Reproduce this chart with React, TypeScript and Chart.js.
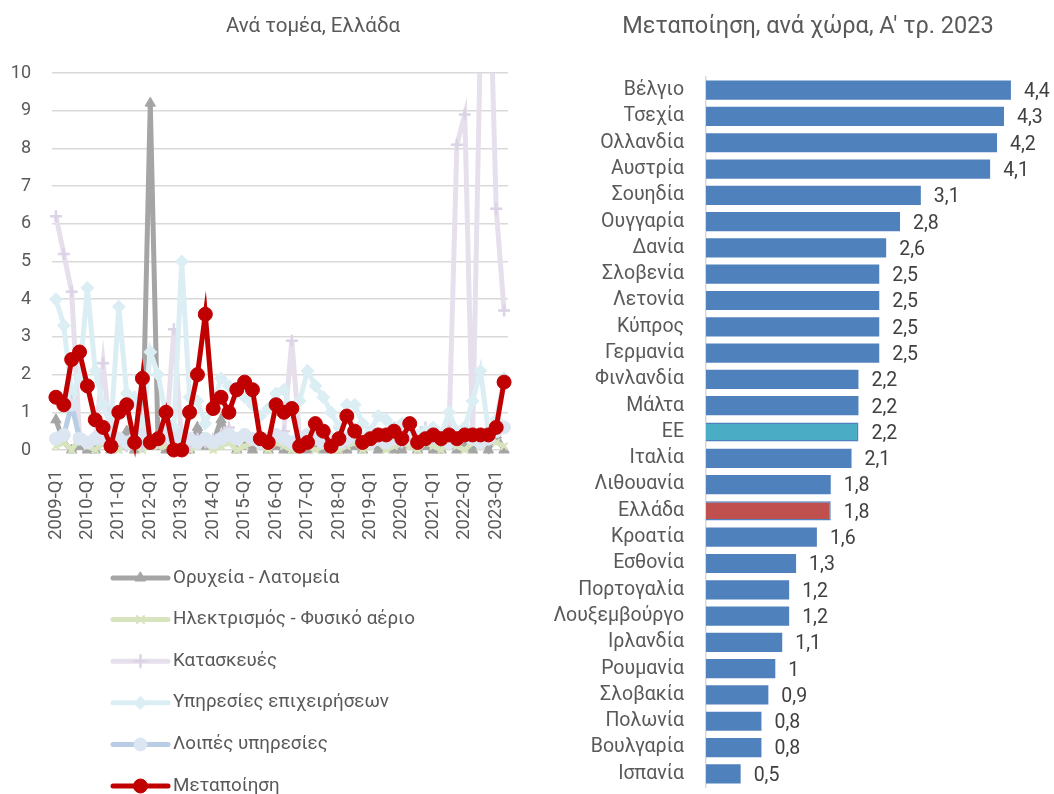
import React, { useEffect, useRef } from 'react';
import { Chart, registerables } from 'chart.js';
import { drawPoint } from 'chart.js/helpers';

Chart.register(...registerables);

const FONT_FAMILY = 'Roboto, "Noto Sans", "DejaVu Sans", sans-serif';
const TEXT_COLOR = '#595959';
const VALUE_COLOR = '#404040';
const GRID_COLOR = '#D9D9D9';

// ---------- Left chart data ----------
const quarterLabels = [
  '2009-Q1', '2009-Q2', '2009-Q3', '2009-Q4',
  '2010-Q1', '2010-Q2', '2010-Q3', '2010-Q4',
  '2011-Q1', '2011-Q2', '2011-Q3', '2011-Q4',
  '2012-Q1', '2012-Q2', '2012-Q3', '2012-Q4',
  '2013-Q1', '2013-Q2', '2013-Q3', '2013-Q4',
  '2014-Q1', '2014-Q2', '2014-Q3', '2014-Q4',
  '2015-Q1', '2015-Q2', '2015-Q3', '2015-Q4',
  '2016-Q1', '2016-Q2', '2016-Q3', '2016-Q4',
  '2017-Q1', '2017-Q2', '2017-Q3', '2017-Q4',
  '2018-Q1', '2018-Q2', '2018-Q3', '2018-Q4',
  '2019-Q1', '2019-Q2', '2019-Q3', '2019-Q4',
  '2020-Q1', '2020-Q2', '2020-Q3', '2020-Q4',
  '2021-Q1', '2021-Q2', '2021-Q3', '2021-Q4',
  '2022-Q1', '2022-Q2', '2022-Q3', '2022-Q4',
  '2023-Q1', '2023-Q2',
];

const miningValues = [
  0.8, 0.2, 0, 0.1, 0, 0, 0.2, 0, 0.1, 0.5,
  0, 0.1, 9.2, 0.1, 0, 0, 0.2, 0, 0.6, 0.1,
  0.2, 0.8, 0.3, 0, 0.1, 0, 0.2, 0, 0.1, 0,
  0, 0.3, 0, 0.1, 0, 0.2, 0, 0, 0.1, 0,
  0.2, 0, 0.1, 0, 0, 0.2, 0, 0.1, 0, 0,
  0.2, 0, 0.1, 0, 0.3, 0, 0.4, 0,
];

const electricityValues = [
  0.1, 0.2, 0, 0.3, 0.1, 0, 0.2, 0.1, 0, 0.2,
  0.1, 0, 0.2, 0.1, 0.1, 0, 0.2, 0, 0.1, 0.2,
  0, 0.1, 0.2, 0, 0.1, 0.2, 0.1, 0, 0.2, 0.1,
  0, 0.2, 0.1, 0, 0.1, 0.2, 0, 0.1, 0.2, 0,
  0.1, 0.2, 0, 0.1, 0.2, 0.1, 0, 0.2, 0.1, 0,
  0.2, 0.1, 0, 0.2, 0.1, 0.3, 0.2, 0.1,
];

const constructionValues = [
  6.2, 5.2, 4.2, 0.4, 0.2, 0.3, 2.3, 0.2, 0.3, 0.1,
  0.2, 0.1, 0.3, 0.2, 0.3, 3.2, 0.2, 0.1, 0.3, 0.2,
  0.3, 0.4, 0.6, 0.3, 0.4, 0.3, 0.2, 0.3, 0.4, 0.5,
  2.9, 0.3, 0.2, 0.3, 0.2, 0.1, 0.3, 0.2, 0.4, 0.3,
  0.2, 0.3, 0.4, 0.3, 0.2, 0.3, 0.4, 0.6, 0.3, 0.4,
  0.5, 8.1, 8.9, 0.3, 11, 14, 6.4, 3.7,
];

const businessServicesValues = [
  4.0, 3.3, 1.5, 1.9, 4.3, 2.1, 1.2, 0.6, 3.8, 1.5,
  1.4, 0.5, 2.6, 2.0, 0.9, 0.6, 5.0, 1.4, 1.3, 0.7,
  1.2, 1.9, 1.7, 1.5, 1.4, 1.2, 0.9, 1.1, 1.5, 1.6,
  1.0, 1.3, 2.1, 1.7, 1.4, 1.0, 0.6, 1.2, 1.2, 0.7,
  0.5, 0.9, 0.8, 0.6, 0.7, 0.5, 0.4, 0.5, 0.6, 0.4,
  1.0, 0.5, 0.6, 1.3, 2.1, 0.5, 0.8, 1.9,
];

const otherServicesValues = [
  0.3, 0.4, 1.2, 0.3, 0.2, 0.3, 0.3, 0.4, 0.3, 0.2,
  0.3, 0.4, 0.2, 0.3, 0.4, 0.3, 0.4, 0.3, 0.2, 0.3,
  0.2, 0.3, 0.4, 0.3, 0.4, 0.3, 0.2, 0.3, 0.4, 0.3,
  0.2, 0.3, 0.4, 0.3, 0.2, 0.3, 0.2, 0.3, 0.4, 0.3,
  0.2, 0.3, 0.2, 0.3, 0.4, 0.3, 0.2, 0.3, 0.4, 0.3,
  0.2, 0.3, 0.4, 0.3, 0.2, 0.3, 0.5, 0.6,
];

const manufacturingValues = [
  1.4, 1.2, 2.4, 2.6, 1.7, 0.8, 0.6, 0.1, 1.0, 1.2,
  0.2, 1.9, 0.2, 0.3, 1.0, 0, 0, 1.0, 2.0, 3.6,
  1.1, 1.4, 1.0, 1.6, 1.8, 1.6, 0.3, 0.2, 1.2, 1.0,
  1.1, 0.1, 0.2, 0.7, 0.5, 0.1, 0.3, 0.9, 0.5, 0.2,
  0.3, 0.4, 0.4, 0.5, 0.3, 0.7, 0.2, 0.3, 0.4, 0.3,
  0.4, 0.3, 0.4, 0.4, 0.4, 0.4, 0.6, 1.8,
];

const yTickValues = [0, 1, 2, 3, 4, 5, 6, 7, 8, 9, 10];

// ---------- Right chart data ----------
const countries = [
  'Βέλγιο', 'Τσεχία', 'Ολλανδία', 'Αυστρία', 'Σουηδία', 'Ουγγαρία', 'Δανία',
  'Σλοβενία', 'Λετονία', 'Κύπρος', 'Γερμανία', 'Φινλανδία', 'Μάλτα', 'ΕΕ',
  'Ιταλία', 'Λιθουανία', 'Ελλάδα', 'Κροατία', 'Εσθονία', 'Πορτογαλία',
  'Λουξεμβούργο', 'Ιρλανδία', 'Ρουμανία', 'Σλοβακία', 'Πολωνία', 'Βουλγαρία', 'Ισπανία',
];
const countryValues = [
  4.4, 4.3, 4.2, 4.1, 3.1, 2.8, 2.6, 2.5, 2.5, 2.5, 2.5, 2.2, 2.2, 2.2,
  2.1, 1.8, 1.8, 1.6, 1.3, 1.2, 1.2, 1.1, 1, 0.9, 0.8, 0.8, 0.5,
];

// ---------- Plugins ----------
const verticalLegend = {
  id: 'verticalLegend',
  afterDraw(chart: any, _args: any, opts: any) {
    const ctx = chart.ctx;
    chart.data.datasets.forEach((ds: any, i: number) => {
      const cy = opts.y + i * opts.step;
      const x = opts.x;
      ctx.save();
      ctx.lineCap = 'round';
      ctx.strokeStyle = ds.borderColor;
      ctx.lineWidth = ds.borderWidth;
      ctx.beginPath();
      ctx.moveTo(x, cy);
      ctx.lineTo(x + opts.lineLength, cy);
      ctx.stroke();
      ctx.fillStyle = ds.pointBackgroundColor;
      ctx.strokeStyle = ds.pointBorderColor;
      ctx.lineWidth = ds.pointBorderWidth;
      drawPoint(
        ctx,
        { pointStyle: ds.pointStyle, radius: ds.pointRadius, rotation: 0, borderWidth: ds.pointBorderWidth },
        x + opts.lineLength / 2,
        cy
      );
      ctx.fillStyle = opts.color;
      ctx.font = opts.font;
      ctx.textAlign = 'left';
      ctx.textBaseline = 'middle';
      ctx.fillText(ds.label, x + opts.lineLength + opts.gap, cy);
      ctx.restore();
    });
  },
};

const barValueLabels = {
  id: 'barValueLabels',
  afterDatasetsDraw(chart: any, _args: any, opts: any) {
    const ctx = chart.ctx;
    const meta = chart.getDatasetMeta(0);
    const values = chart.data.datasets[0].data;
    ctx.save();
    ctx.font = opts.font;
    ctx.fillStyle = opts.color;
    ctx.textAlign = 'left';
    ctx.textBaseline = 'middle';
    meta.data.forEach((el: any, i: number) => {
      const txt = String(values[i]).replace('.', ',');
      ctx.fillText(txt, el.x + opts.offset, el.y + 2);
    });
    ctx.restore();
  },
};

const lineClip = { left: 10, right: 10, top: 0, bottom: 10 };

function makeLineDataset(
  label: string,
  data: number[],
  lineColor: string,
  pointColor: string,
  pointStyle: string,
  radius: number,
  pointBorderWidth: number,
  order: number
) {
  return {
    label,
    data,
    borderColor: lineColor,
    backgroundColor: pointColor,
    pointBackgroundColor: pointColor,
    pointBorderColor: pointColor,
    pointStyle,
    pointRadius: radius,
    pointBorderWidth,
    borderWidth: 5,
    tension: 0,
    order,
    clip: lineClip,
  };
}

function LeftChart() {
  const ref = useRef<HTMLCanvasElement | null>(null);
  useEffect(() => {
    if (!ref.current) return;
    const tickFont = { family: FONT_FAMILY, size: 18 };
    const chart = new Chart(ref.current, {
      type: 'line',
      data: {
        labels: quarterLabels,
        datasets: [
          makeLineDataset('Ορυχεία - Λατομεία', miningValues, '#A5A5A5', '#A5A5A5', 'triangle', 6, 1, 5),
          makeLineDataset('Ηλεκτρισμός - Φυσικό αέριο', electricityValues, '#D7E4BD', '#D7E4BD', 'crossRot', 5, 2, 4),
          makeLineDataset('Κατασκευές', constructionValues, '#E6E0EC', '#DCD3E6', 'cross', 6, 2.5, 3),
          makeLineDataset('Υπηρεσίες επιχειρήσεων', businessServicesValues, '#DBEEF4', '#DBEEF4', 'rectRot', 6.5, 1, 2),
          makeLineDataset('Λοιπές υπηρεσίες', otherServicesValues, '#B9CDE5', '#DCE6F2', 'circle', 6.5, 1, 1),
          makeLineDataset('Μεταποίηση', manufacturingValues, '#C00000', '#C00000', 'circle', 7, 1, 0),
        ] as any,
      },
      plugins: [verticalLegend],
      options: {
        responsive: false,
        animation: false,
        layout: { padding: { left: 0, right: 0, top: 0, bottom: 244 } },
        plugins: {
          legend: { display: false },
          tooltip: { enabled: false },
          title: {
            display: true,
            text: 'Ανά τομέα, Ελλάδα',
            color: TEXT_COLOR,
            font: { family: FONT_FAMILY, size: 20.5, weight: 'normal' },
            padding: { top: 14.7, bottom: 33.7 },
          },
          verticalLegend: {
            x: 113,
            y: 578,
            step: 41.6,
            lineLength: 55,
            gap: 5,
            color: TEXT_COLOR,
            font: `18.8px ${FONT_FAMILY}`,
          },
        } as any,
        scales: {
          x: {
            type: 'category',
            offset: true,
            grid: { display: false, drawTicks: false },
            border: { display: false },
            afterFit: (s: any) => {
              s.height = 100;
            },
            ticks: {
              autoSkip: false,
              maxRotation: 90,
              minRotation: 90,
              padding: 20,
              color: TEXT_COLOR,
              font: { family: FONT_FAMILY, size: 18.5 },
              callback: (_v: any, idx: number) => (idx % 4 === 0 ? quarterLabels[idx] : ''),
            },
          },
          y: {
            type: 'linear',
            min: 0,
            max: 10,
            afterFit: (s: any) => {
              s.width = 52;
            },
            afterBuildTicks: (s: any) => {
              s.ticks = yTickValues.map((v) => ({ value: v }));
            },
            grid: { color: GRID_COLOR, lineWidth: 1.5, drawTicks: false },
            border: { display: false },
            ticks: { padding: 21, color: TEXT_COLOR, font: tickFont },
          },
          yPad: {
            type: 'linear',
            axis: 'y',
            position: 'right',
            afterFit: (s: any) => {
              s.width = 118;
            },
            grid: { display: false, drawTicks: false },
            border: { display: false },
            ticks: { display: false },
          },
        } as any,
      },
    });
    return () => chart.destroy();
  }, []);
  return (
    <canvas
      ref={ref}
      width={626}
      height={794}
      style={{ position: 'absolute', left: 0, top: 0, width: 626, height: 794 }}
    />
  );
}

// Right canvas spans x 542..1074 so that the title is centred at x = 808
const RIGHT_LEFT = 542;
const RIGHT_WIDTH = 532;

function RightChart() {
  const ref = useRef<HTMLCanvasElement | null>(null);
  useEffect(() => {
    if (!ref.current) return;
    const labelFont = { family: FONT_FAMILY, size: 19.5 };
    const chart = new Chart(ref.current, {
      type: 'bar',
      data: {
        labels: countries,
        datasets: [
          {
            data: countryValues,
            backgroundColor: countries.map((c) =>
              c === 'ΕΕ' ? '#4BACC6' : c === 'Ελλάδα' ? '#C0504D' : '#4F81BD'
            ),
            borderColor: '#4F81BD',
            borderWidth: countries.map((c) => (c === 'ΕΕ' || c === 'Ελλάδα' ? 1.5 : 0)),
            barPercentage: 0.73,
            categoryPercentage: 1,
          },
        ],
      },
      plugins: [barValueLabels],
      options: {
        indexAxis: 'y',
        responsive: false,
        animation: false,
        layout: { padding: { left: 0, right: 0, top: 0, bottom: 7 } },
        plugins: {
          legend: { display: false },
          tooltip: { enabled: false },
          title: {
            display: true,
            text: "Μεταποίηση, ανά χώρα, Α' τρ. 2023",
            color: TEXT_COLOR,
            font: { family: FONT_FAMILY, size: 23.5, weight: 'normal' },
            padding: { top: 12.9, bottom: 35.9 },
          },
          barValueLabels: {
            offset: 13,
            color: VALUE_COLOR,
            font: `19.5px ${FONT_FAMILY}`,
          },
        } as any,
        scales: {
          x: {
            display: false,
            min: 0,
            max: 5,
            grid: { display: false, drawTicks: false },
            ticks: { display: false },
          },
          y: {
            afterFit: (s: any) => {
              s.width = 164;
              s.paddingTop = 0;
              s.paddingBottom = 0;
            },
            grid: { display: false, drawTicks: false },
            border: { display: true, color: GRID_COLOR, width: 1.5 },
            ticks: { autoSkip: false, padding: 22, color: TEXT_COLOR, font: labelFont },
          },
          yPad: {
            type: 'linear',
            axis: 'y',
            position: 'right',
            afterFit: (s: any) => {
              s.width = 21.5;
              s.paddingTop = 0;
              s.paddingBottom = 0;
            },
            grid: { display: false, drawTicks: false },
            border: { display: false },
            ticks: { display: false },
          },
        } as any,
      },
    });
    return () => chart.destroy();
  }, []);
  return (
    <canvas
      ref={ref}
      width={RIGHT_WIDTH}
      height={794}
      style={{ position: 'absolute', left: RIGHT_LEFT, top: 0, width: RIGHT_WIDTH, height: 794 }}
    />
  );
}

export default function App() {
  return (
    <div
      style={{
        position: 'fixed',
        left: 0,
        top: 0,
        width: 1054,
        height: 794,
        background: '#ffffff',
        overflow: 'hidden',
      }}
    >
      <LeftChart />
      <RightChart />
    </div>
  );
}
